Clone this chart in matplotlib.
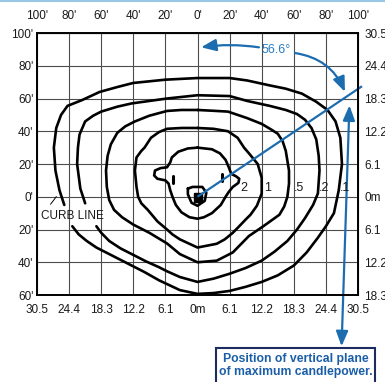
import matplotlib
matplotlib.use("Agg")
import matplotlib.pyplot as plt
from matplotlib.patches import FancyArrowPatch, Rectangle
from matplotlib.lines import Line2D

plt.rcParams['font.family'] = ['Liberation Sans Narrow', 'Liberation Sans', 'DejaVu Sans']

# ---------------- data (feet) ----------------
x_ticks = [-100, -80, -60, -40, -20, 0, 20, 40, 60, 80, 100]
y_ticks = [100, 80, 60, 40, 20, 0, -20, -40, -60]
top_labels = ["100'", "80'", "60'", "40'", "20'", "0'", "20'", "40'", "60'", "80'", "100'"]
bottom_labels = ["30.5", "24.4", "18.3", "12.2", "6.1", "0m", "6.1", "12.2", "18.3", "24.4", "30.5"]
left_labels = ["100'", "80'", "60'", "40'", "20'", "0'", "20'", "40'", "60'"]
right_labels = ["30.5", "24.4", "18.3", "12.2", "6.1", "0m", "6.1", "12.2", "18.3"]

# iso-footcandle lines
c01_x = [-83, -86, -88.5, -89.5, -88, -85, -81, -72, -61, -50, -40, -20, 0, 20, 31, 45, 55, 65, 74, 81,
         86, 89, 90, 88, 85, 80, 75, 68, 60, 50, 40, 30, 20, 10, 0, -11, -24, -33, -41, -55, -63, -69, -74, -78]
c01_y = [-5, 4, 16, 30, 42, 50, 55.5, 59, 64, 67, 69.5, 71.5, 72.5, 72.5, 71, 68, 66, 63, 58, 53,
         46, 36, 20, 4, -10, -18, -25, -34, -42, -48, -52, -55, -57.5, -58.8, -59.3, -57, -51, -46, -42, -35, -31, -27, -23, -18]

c02_x = [-70, -73, -75, -74.5, -73.5, -70, -65, -60, -50, -41, -30, -19, 0, 20, 31, 45, 55, 62, 67, 71,
         74, 75.5, 76, 75, 72, 67, 62, 56, 48, 40, 30, 20, 10, 0, -11, -19, -24, -32, -40, -48, -55, -60, -63]
c02_y = [-4, 5, 20, 30, 38, 46, 49.5, 52, 55, 57, 58.5, 60, 62, 61.5, 58.5, 55.5, 53, 50.5, 47, 42,
         35, 25, 16, 2, -5, -13, -20, -27, -33.5, -39, -43.5, -47, -50, -52, -49, -45.5, -43, -39.5, -35.5, -31.5, -27, -22, -18]

c05_x = [0, 10, 19, 31, 40, 46, 50, 53, 55, 56, 57, 57, 56, 54, 51, 46, 41, 32, 27, 22, 12, 0, -11, -19,
         -30, -40, -47, -52, -55, -56.5, -57, -56, -54, -50, -45, -39, -30, -19, -10, 0]
c05_y = [53, 52.5, 52, 48, 44.5, 41, 38.5, 34, 28, 22, 16, 8, 0, -6, -11, -14.5, -18, -24, -29, -34, -39, -40, -35, -28.5,
         -22, -17, -12.5, -8, -2, 6, 16, 25, 32, 39, 43, 46, 49.5, 52.4, 53, 53]

c1_x = [0, 10, 19, 25, 29, 32.5, 37.5, 40, 40, 37, 33, 30.5, 26, 22, 17, 12, 0, -11, -15.6, -19, -25, -31,
        -35, -37, -38, -39, -38, -35, -33, -29, -24, -19, -10, 0]
c1_y = [42, 41.5, 40, 36, 30, 26, 20, 11.6, 2, -5.5, -11, -13.4, -18, -22, -26, -28.7, -31, -26, -23, -20, -15, -8,
        -4, 0, 6, 16, 24, 28, 30, 36, 39.5, 41.5, 42, 42]

c2_x = [0, 9, 14, 17.5, 19.5, 21, 24, 26, 25.5, 22, 19.5, 17.5, 14.5, 9, 4, 0, -5, -10, -13.5, -15.6, -17, -18,
        -20, -25, -27, -26.5, -23, -19, -17, -16, -12, -6, 0]
c2_y = [30, 29, 26.5, 22.5, 18, 14, 12.5, 11, 8.5, 6, 3, 0, -5, -10, -12.5, -13.4, -12.5, -9.5, -5, 0, 4, 8,
        10, 11, 13, 16, 17.5, 18, 21, 24, 27.5, 29.5, 30]

hex_x = [-6, -3, 3, 5.5, 4.5, 0, -3.7, -6, -6]
hex_y = [5, 6, 6, 2.5, -2.5, -5.5, -3.7, 1.5, 5]

dash_x = [[-15, -15], [15.5, 15.5]]
dash_y = [[12.5, 8.5], [14, 9.5]]

labels_txt = ["2", "1", ".5", ".2", ".1"]
labels_x = [26.8, 41.3, 59.8, 75.8, 88.6]

max_angle = 56.6
ray_end = (102.5, 67.5)

# ---------------- figure ----------------
fig = plt.figure(figsize=(3.85, 3.82), dpi=100)
ax = fig.add_axes([0.0961, 0.2277, 0.8338, 0.6859])
ax.set_xlim(-100, 100)
ax.set_ylim(-60, 100)

ax.set_xticks(x_ticks)
ax.set_xticklabels(bottom_labels)
ax.set_yticks(y_ticks)
ax.set_yticklabels(left_labels)
ax.tick_params(length=0, labelsize=8.5, colors='#1a1a1a')
ax.tick_params(axis='x', pad=6.5)
ax.tick_params(axis='y', pad=2.5)
ax.grid(True, color='#4d4d4d', lw=0.8)
ax.set_axisbelow(True)
for s in ax.spines.values():
    s.set_linewidth(1.4)

secx = ax.secondary_xaxis('top')
secx.set_xticks(x_ticks)
secx.set_xticklabels(top_labels)
secx.tick_params(length=0, labelsize=8.5, pad=8, colors='#1a1a1a')
secy = ax.secondary_yaxis('right')
secy.set_yticks(y_ticks)
secy.set_yticklabels(right_labels)
secy.tick_params(length=0, labelsize=8.5, pad=4.5, colors='#1a1a1a')

lw = 1.9
for cx, cy in [(c01_x, c01_y), (c02_x, c02_y), (c05_x, c05_y), (c1_x, c1_y), (c2_x, c2_y), (hex_x, hex_y)]:
    ax.plot(cx, cy, color='black', lw=lw, solid_joinstyle='round', solid_capstyle='round')
for dx, dy in zip(dash_x, dash_y):
    ax.plot(dx, dy, color='black', lw=2.2, solid_capstyle='round')
ax.fill([-2, 2.8, 2.8, -2], [2.4, 2.4, -3, -3], color='black')

for t, lx in zip(labels_txt, labels_x):
    ax.text(lx, 5.5, t, fontsize=9, ha='left', va='center', color='#1a1a1a')

ax.text(-78, -11.5, "CURB LINE", fontsize=8.5, ha='center', va='center', color='#1a1a1a')
ax.plot([-91.5, -88], [-4.5, 0], color='black', lw=0.7)

# maximum candlepower plane
blue = '#1c6cb0'
ax.plot([0, ray_end[0]], [0, ray_end[1]], color=blue, lw=1.6, clip_on=False, solid_capstyle='butt')
ax.text(49, 89.5, f"{max_angle}°", fontsize=9, color='#2a7cc0', ha='center', va='center')
head = '-|>,head_length=9,head_width=3.6'
a1 = FancyArrowPatch((40, 91), (0.5, 91), connectionstyle='arc3,rad=0.08',
                     arrowstyle=head, color=blue, lw=1.6, clip_on=False)
a2 = FancyArrowPatch((59, 88), (92.5, 62.5), connectionstyle='arc3,rad=-0.3',
                     arrowstyle=head, color=blue, lw=1.6, clip_on=False)
a3 = FancyArrowPatch((94.7, 57.5), (89.7, -93), connectionstyle='arc3,rad=0',
                     arrowstyle='<|-|>,head_length=9,head_width=3.6', color=blue, lw=1.6, clip_on=False)
for a in (a1, a2, a3):
    ax.add_patch(a)

fig.add_artist(Rectangle((0.561, -0.01), 0.413, 0.099, transform=fig.transFigure,
                         fill=False, edgecolor='#1d2c5e', lw=1.5))
fig.text(0.7675, 0.043, "Position of vertical plane\nof maximum candlepower.", fontsize=8.8,
         fontweight='bold', color='#1a5ea8', ha='center', va='center', linespacing=1.05)
fig.add_artist(Line2D([0, 1], [0.998, 0.998], color='#9ac6e6', lw=1.5, transform=fig.transFigure))

fig.savefig('out.png', dpi=100)
